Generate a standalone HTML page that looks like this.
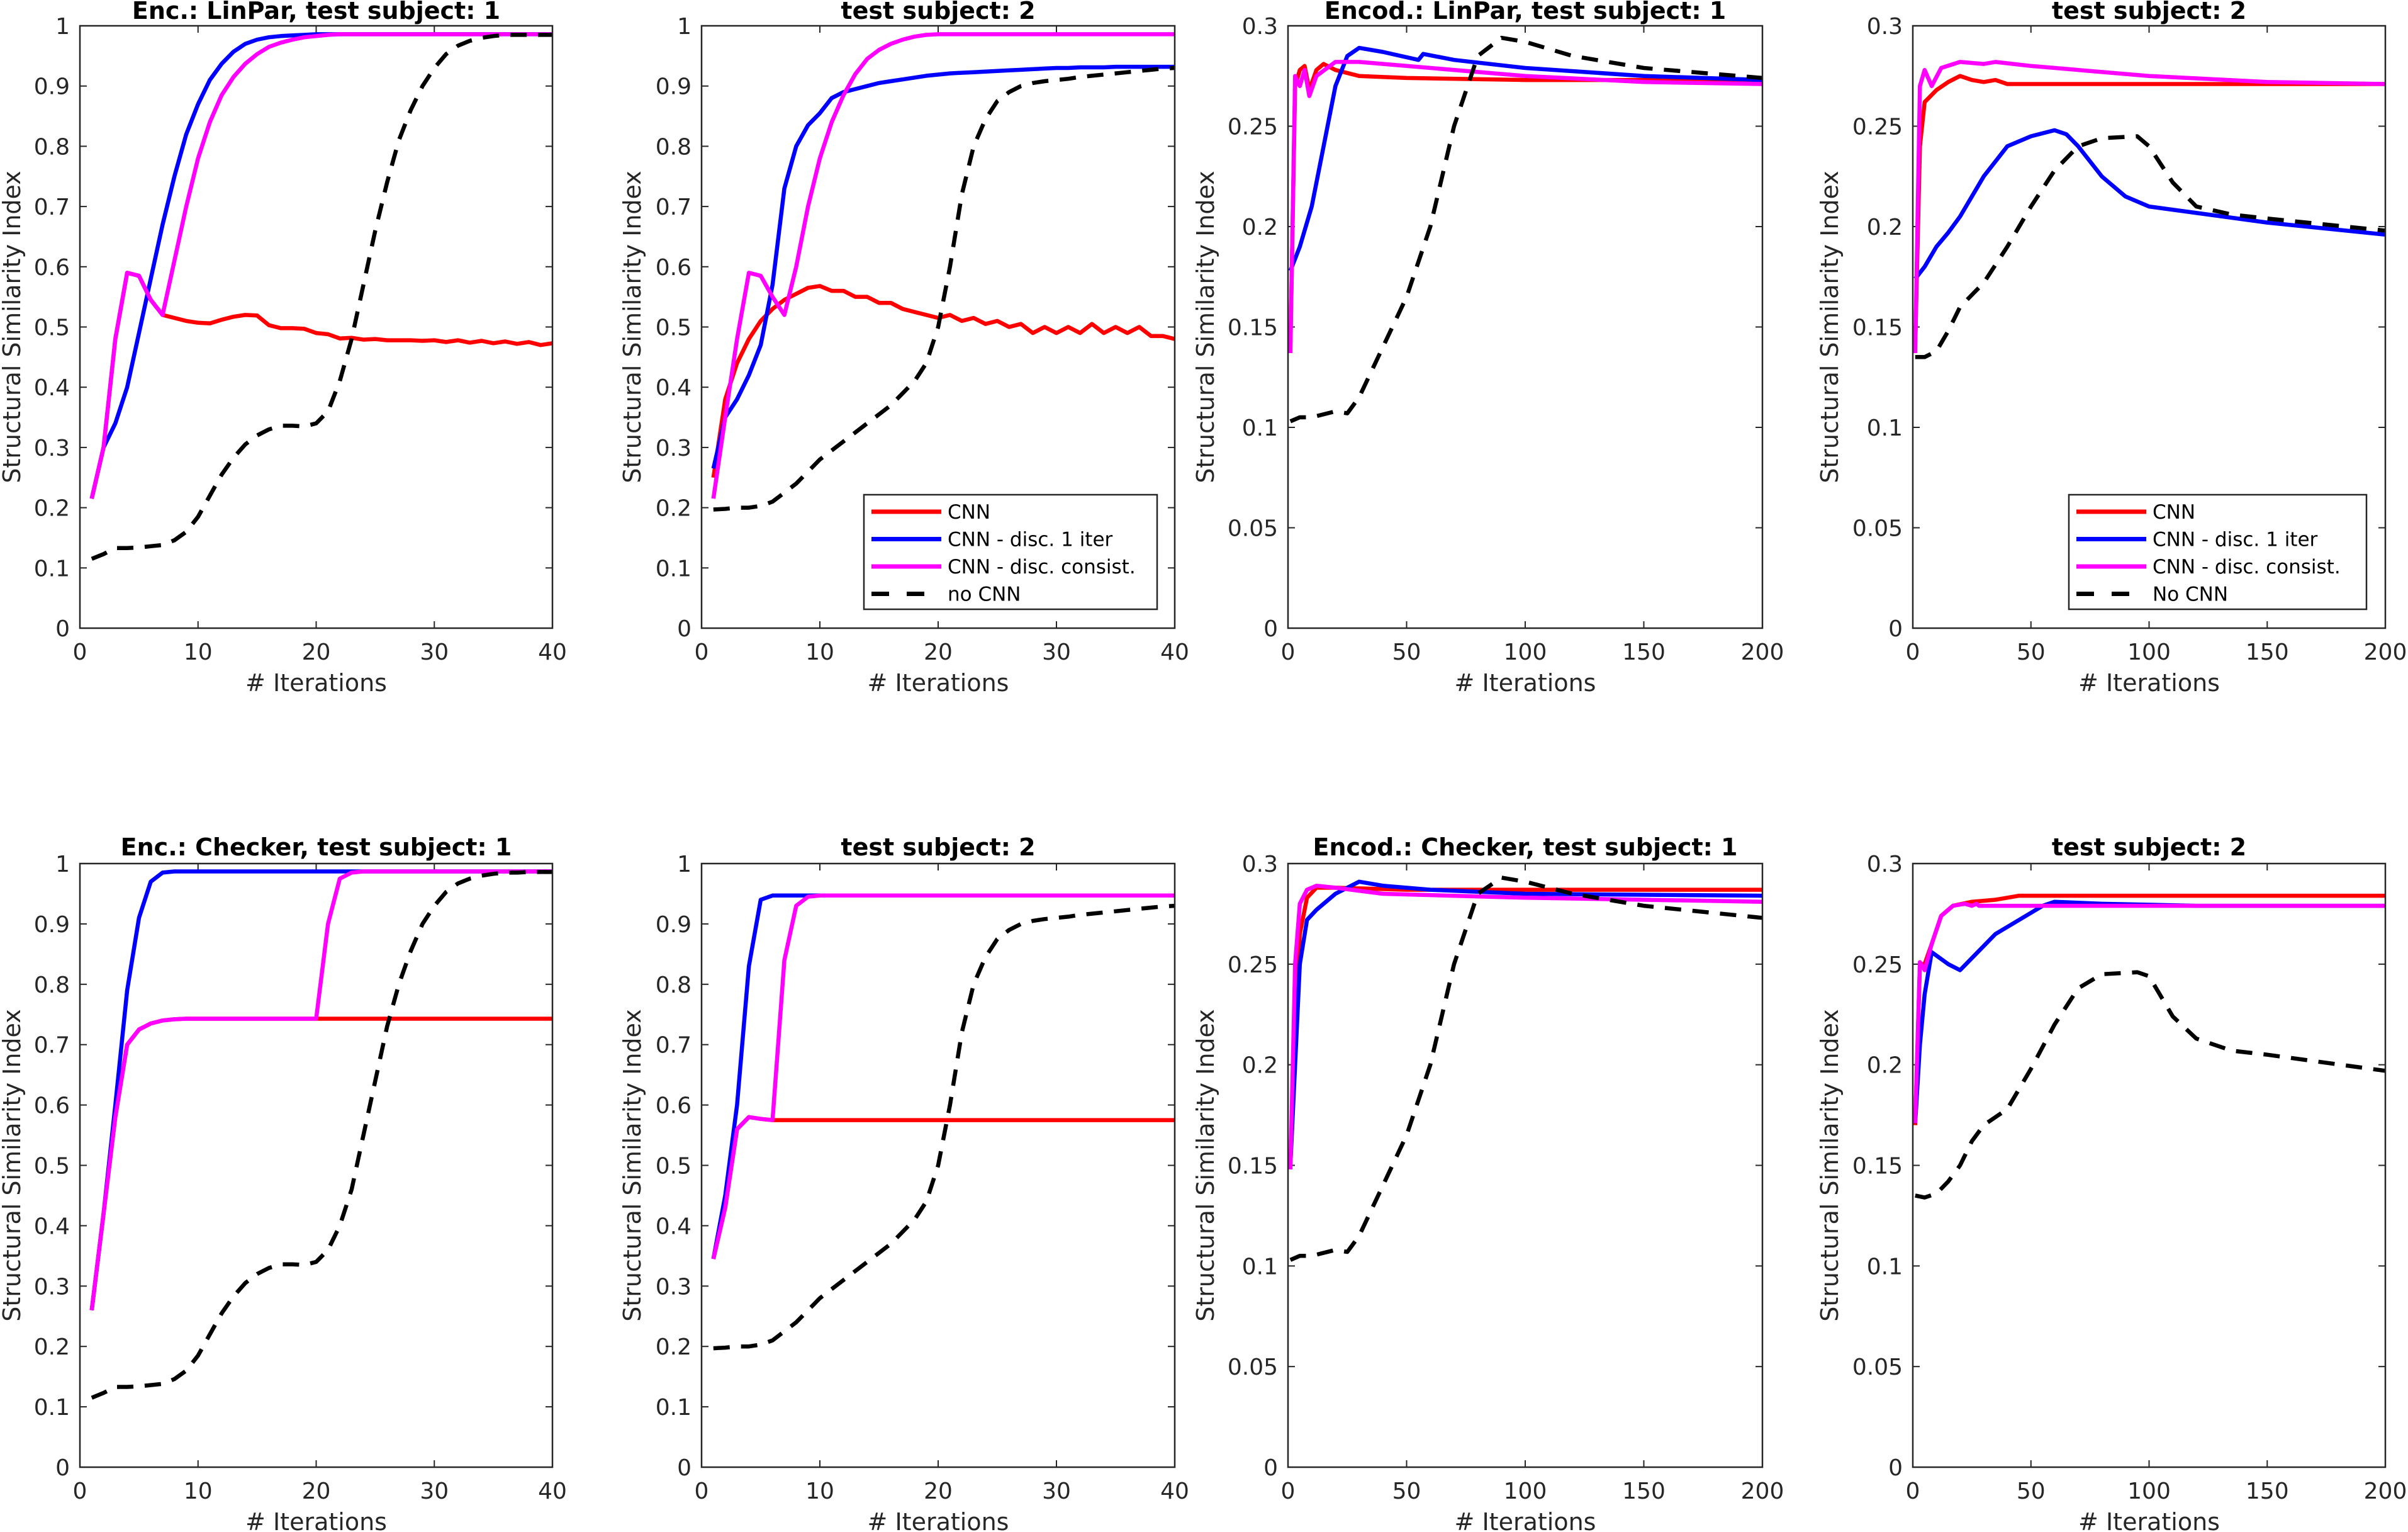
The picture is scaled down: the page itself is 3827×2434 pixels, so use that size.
<!DOCTYPE html>
<html><head><meta charset="utf-8"><style>
html,body{margin:0;padding:0;background:#fff;}
svg{display:block;font-family:"DejaVu Sans","Liberation Sans",sans-serif;}
</style></head><body>
<svg id="fig" width="3827" height="2434" viewBox="0 0 3827 2434" xmlns="http://www.w3.org/2000/svg"></svg>
<script>
// ---- data ----
const iters40 = [1,2,3,4,5,6,7,8,9,10,11,12,13,14,15,16,17,18,19,20,21,22,23,24,25,26,27,28,29,30,31,32,33,34,35,36,37,38,39,40];
// Panel 1: LinPar subject 1
const p1Red = [0.215,0.30,0.48,0.59,0.585,0.545,0.52,0.515,0.51,0.507,0.506,0.512,0.517,0.52,0.519,0.503,0.498,0.498,0.497,0.49,0.488,0.481,0.482,0.479,0.48,0.478,0.478,0.478,0.477,0.478,0.475,0.478,0.474,0.477,0.473,0.476,0.472,0.475,0.47,0.473];
const p1Blue = [0.215,0.30,0.34,0.40,0.49,0.58,0.67,0.75,0.82,0.87,0.91,0.937,0.957,0.97,0.977,0.981,0.983,0.984,0.985,0.986,0.986,0.986,0.986,0.986,0.986,0.986,0.986,0.986,0.986,0.986,0.986,0.986,0.986,0.986,0.986,0.986,0.986,0.986,0.986,0.986];
const p1Mag = [0.215,0.30,0.48,0.59,0.585,0.545,0.52,0.61,0.70,0.78,0.84,0.885,0.915,0.937,0.953,0.965,0.972,0.977,0.981,0.983,0.985,0.986,0.986,0.986,0.986,0.986,0.986,0.986,0.986,0.986,0.986,0.986,0.986,0.986,0.986,0.986,0.986,0.986,0.986,0.986];
const p1Black = [0.115,0.123,0.133,0.133,0.134,0.136,0.138,0.146,0.16,0.185,0.22,0.255,0.283,0.305,0.32,0.33,0.336,0.336,0.335,0.34,0.36,0.41,0.48,0.57,0.66,0.74,0.81,0.86,0.90,0.93,0.953,0.967,0.975,0.98,0.983,0.985,0.985,0.985,0.985,0.985];
// Panel 2: LinPar subject 2
const p2Red = [0.25,0.38,0.44,0.48,0.51,0.53,0.545,0.555,0.565,0.568,0.56,0.56,0.55,0.55,0.54,0.54,0.53,0.525,0.52,0.515,0.52,0.51,0.515,0.505,0.51,0.50,0.505,0.49,0.50,0.49,0.50,0.49,0.505,0.49,0.50,0.49,0.50,0.485,0.485,0.48];
const p2Blue = [0.265,0.35,0.38,0.42,0.47,0.57,0.73,0.80,0.835,0.855,0.88,0.89,0.895,0.90,0.905,0.908,0.911,0.914,0.917,0.919,0.921,0.922,0.923,0.924,0.925,0.926,0.927,0.928,0.929,0.93,0.93,0.931,0.931,0.931,0.932,0.932,0.932,0.932,0.932,0.932];
const p2Mag = [0.215,0.35,0.48,0.59,0.585,0.55,0.52,0.60,0.70,0.78,0.84,0.885,0.92,0.945,0.96,0.97,0.977,0.982,0.985,0.986,0.986,0.986,0.986,0.986,0.986,0.986,0.986,0.986,0.986,0.986,0.986,0.986,0.986,0.986,0.986,0.986,0.986,0.986,0.986,0.986];
const p2Black = [0.197,0.198,0.20,0.20,0.203,0.21,0.225,0.24,0.26,0.28,0.295,0.31,0.325,0.34,0.355,0.37,0.39,0.41,0.44,0.50,0.60,0.72,0.80,0.845,0.875,0.89,0.90,0.905,0.908,0.91,0.912,0.915,0.917,0.919,0.921,0.923,0.925,0.927,0.929,0.93];
// Panel 3: Encod LinPar subject 1
const p3RedX = [1,3,5,7,9,12,15,20,30,50,100,150,200];
const p3Red = [0.14,0.27,0.278,0.28,0.268,0.278,0.281,0.278,0.275,0.274,0.273,0.273,0.272];
const p3MagX = [1,3,5,7,9,12,20,30,50,100,150,200];
const p3Mag = [0.137,0.275,0.27,0.278,0.265,0.275,0.282,0.282,0.28,0.275,0.272,0.271];
const p3BlueX = [1,5,10,15,20,25,30,40,55,57,70,100,150,200];
const p3Blue = [0.178,0.19,0.21,0.24,0.27,0.285,0.289,0.287,0.283,0.286,0.283,0.279,0.275,0.273];
const p3BlackX = [1,5,10,20,25,30,40,50,60,70,80,90,100,120,150,200];
const p3Black = [0.103,0.105,0.105,0.108,0.107,0.115,0.14,0.165,0.20,0.25,0.285,0.294,0.292,0.285,0.279,0.274];
// Panel 4: Encod LinPar subject 2
const p4RedX = [1,3,5,10,15,20,25,30,35,40,200];
const p4Red = [0.14,0.24,0.262,0.268,0.272,0.275,0.273,0.272,0.273,0.271,0.271];
const p4MagX = [1,3,5,8,12,20,30,35,50,100,150,200];
const p4Mag = [0.137,0.27,0.278,0.27,0.279,0.282,0.281,0.282,0.28,0.275,0.272,0.271];
const p4BlueX = [1,5,10,15,20,30,40,50,60,65,70,80,90,100,150,200];
const p4Blue = [0.174,0.18,0.19,0.197,0.205,0.225,0.24,0.245,0.248,0.246,0.24,0.225,0.215,0.21,0.202,0.196];
const p4BlackX = [1,5,10,15,20,30,40,50,60,70,80,95,100,110,120,135,150,200];
const p4Black = [0.135,0.135,0.138,0.148,0.16,0.172,0.19,0.21,0.228,0.24,0.244,0.245,0.24,0.222,0.21,0.206,0.204,0.198];
// Panel 5: Checker subject 1
const p5Red = [0.26,0.42,0.58,0.70,0.725,0.735,0.74,0.742,0.743,0.743,0.743,0.743,0.743,0.743,0.743,0.743,0.743,0.743,0.743,0.743,0.743,0.743,0.743,0.743,0.743,0.743,0.743,0.743,0.743,0.743,0.743,0.743,0.743,0.743,0.743,0.743,0.743,0.743,0.743,0.743];
const p5Blue = [0.26,0.42,0.60,0.79,0.91,0.97,0.985,0.987,0.987,0.987,0.987,0.987,0.987,0.987,0.987,0.987,0.987,0.987,0.987,0.987,0.987,0.987,0.987,0.987,0.987,0.987,0.987,0.987,0.987,0.987,0.987,0.987,0.987,0.987,0.987,0.987,0.987,0.987,0.987,0.987];
const p5Mag = [0.26,0.42,0.58,0.70,0.725,0.735,0.74,0.742,0.743,0.743,0.743,0.743,0.743,0.743,0.743,0.743,0.743,0.743,0.743,0.743,0.90,0.975,0.985,0.987,0.987,0.987,0.987,0.987,0.987,0.987,0.987,0.987,0.987,0.987,0.987,0.987,0.987,0.987,0.987,0.987];
const p5Black = [0.115,0.123,0.133,0.133,0.134,0.136,0.138,0.146,0.16,0.185,0.22,0.255,0.283,0.305,0.32,0.33,0.336,0.336,0.335,0.34,0.36,0.40,0.46,0.55,0.64,0.73,0.80,0.855,0.90,0.93,0.953,0.967,0.975,0.98,0.983,0.985,0.985,0.986,0.986,0.986];
// Panel 6: Checker subject 2
const p6Red = [0.345,0.43,0.56,0.58,0.577,0.575,0.575,0.575,0.575,0.575,0.575,0.575,0.575,0.575,0.575,0.575,0.575,0.575,0.575,0.575,0.575,0.575,0.575,0.575,0.575,0.575,0.575,0.575,0.575,0.575,0.575,0.575,0.575,0.575,0.575,0.575,0.575,0.575,0.575,0.575];
const p6Blue = [0.345,0.45,0.60,0.83,0.94,0.947,0.947,0.947,0.947,0.947,0.947,0.947,0.947,0.947,0.947,0.947,0.947,0.947,0.947,0.947,0.947,0.947,0.947,0.947,0.947,0.947,0.947,0.947,0.947,0.947,0.947,0.947,0.947,0.947,0.947,0.947,0.947,0.947,0.947,0.947];
const p6Mag = [0.345,0.43,0.56,0.58,0.577,0.575,0.84,0.93,0.945,0.947,0.947,0.947,0.947,0.947,0.947,0.947,0.947,0.947,0.947,0.947,0.947,0.947,0.947,0.947,0.947,0.947,0.947,0.947,0.947,0.947,0.947,0.947,0.947,0.947,0.947,0.947,0.947,0.947,0.947,0.947];
const p6Black = [0.197,0.198,0.20,0.20,0.203,0.21,0.225,0.24,0.26,0.28,0.295,0.31,0.325,0.34,0.355,0.37,0.39,0.41,0.44,0.50,0.60,0.72,0.80,0.845,0.875,0.89,0.90,0.905,0.908,0.91,0.912,0.915,0.917,0.919,0.921,0.923,0.925,0.927,0.929,0.93];
// Panel 7: Encod Checker subject 1
const p7RedX = [1,3,5,8,12,20,50,200];
const p7Red = [0.15,0.22,0.265,0.283,0.288,0.288,0.287,0.287];
const p7MagX = [1,3,5,8,12,20,40,100,200];
const p7Mag = [0.148,0.25,0.28,0.287,0.289,0.288,0.285,0.283,0.281];
const p7BlueX = [1,3,5,8,12,20,30,40,60,100,200];
const p7Blue = [0.15,0.20,0.25,0.272,0.277,0.285,0.291,0.289,0.287,0.285,0.284];
const p7BlackX = [1,5,10,20,25,30,40,50,60,70,80,90,100,120,150,200];
const p7Black = [0.103,0.105,0.105,0.108,0.107,0.115,0.14,0.165,0.20,0.25,0.285,0.293,0.291,0.285,0.279,0.273];
// Panel 8: Encod Checker subject 2
const p8RedX = [1,3,5,8,12,17,25,35,45,200];
const p8Red = [0.17,0.25,0.25,0.26,0.274,0.279,0.281,0.282,0.284,0.284];
const p8MagX = [1,3,5,8,12,17,22,25,27,28,200];
const p8Mag = [0.171,0.251,0.247,0.26,0.274,0.279,0.28,0.279,0.28,0.279,0.279];
const p8BlueX = [1,3,5,8,15,20,25,35,45,55,60,80,120,200];
const p8Blue = [0.171,0.21,0.235,0.256,0.25,0.247,0.253,0.265,0.272,0.279,0.281,0.28,0.279,0.279];
const p8BlackX = [1,5,10,15,20,25,30,40,50,60,70,80,95,100,110,120,135,150,200];
const p8Black = [0.135,0.134,0.136,0.142,0.15,0.162,0.17,0.178,0.198,0.22,0.238,0.245,0.246,0.244,0.224,0.213,0.207,0.205,0.197];

const yTicksA = [0,0.1,0.2,0.3,0.4,0.5,0.6,0.7,0.8,0.9,1];
const yTickLabelsA = ["0","0.1","0.2","0.3","0.4","0.5","0.6","0.7","0.8","0.9","1"];
const yTicksB = [0,0.05,0.1,0.15,0.2,0.25,0.3];
const yTickLabelsB = ["0","0.05","0.1","0.15","0.2","0.25","0.3"];
const xTicksA = [0,10,20,30,40];
const xTicksB = [0,50,100,150,200];
const legendLabelsA = ["CNN","CNN - disc. 1 iter","CNN - disc. consist.","no CNN"];
const legendLabelsB = ["CNN","CNN - disc. 1 iter","CNN - disc. consist.","No CNN"];

// ---- drawing ----
const NS = "http://www.w3.org/2000/svg";
const svg = document.getElementById('fig');
function mk(tag, parent, attrs) {
  const e = document.createElementNS(NS, tag);
  for (const k in attrs) e.setAttribute(k, attrs[k]);
  parent.appendChild(e);
  return e;
}
const colL = [127,1115,2047,3040], colR = [878,1867,2801,3791];
const rowT = [41,1372], rowB = [998,2331];
const ylabOff = [108,110,131,132];
const COLORS = {red:"#ff0000", blue:"#0000ff", mag:"#ff00ff", black:"#000000"};

const panels = [
  {r:0,c:0,title:"Enc.: LinPar, test subject: 1",xmax:40,ymax:1,series:[[iters40,p1Red,"red"],[iters40,p1Blue,"blue"],[iters40,p1Mag,"mag"],[iters40,p1Black,"black"]]},
  {r:0,c:1,title:"test subject: 2",xmax:40,ymax:1,legend:legendLabelsA,series:[[iters40,p2Red,"red"],[iters40,p2Blue,"blue"],[iters40,p2Mag,"mag"],[iters40,p2Black,"black"]]},
  {r:0,c:2,title:"Encod.: LinPar, test subject: 1",xmax:200,ymax:0.3,series:[[p3RedX,p3Red,"red"],[p3BlueX,p3Blue,"blue"],[p3MagX,p3Mag,"mag"],[p3BlackX,p3Black,"black"]]},
  {r:0,c:3,title:"test subject: 2",xmax:200,ymax:0.3,legend:legendLabelsB,series:[[p4RedX,p4Red,"red"],[p4BlueX,p4Blue,"blue"],[p4MagX,p4Mag,"mag"],[p4BlackX,p4Black,"black"]]},
  {r:1,c:0,title:"Enc.: Checker, test subject: 1",xmax:40,ymax:1,series:[[iters40,p5Red,"red"],[iters40,p5Blue,"blue"],[iters40,p5Mag,"mag"],[iters40,p5Black,"black"]]},
  {r:1,c:1,title:"test subject: 2",xmax:40,ymax:1,series:[[iters40,p6Red,"red"],[iters40,p6Blue,"blue"],[iters40,p6Mag,"mag"],[iters40,p6Black,"black"]]},
  {r:1,c:2,title:"Encod.: Checker, test subject: 1",xmax:200,ymax:0.3,series:[[p7RedX,p7Red,"red"],[p7BlueX,p7Blue,"blue"],[p7MagX,p7Mag,"mag"],[p7BlackX,p7Black,"black"]]},
  {r:1,c:3,title:"test subject: 2",xmax:200,ymax:0.3,series:[[p8RedX,p8Red,"red"],[p8BlueX,p8Blue,"blue"],[p8MagX,p8Mag,"mag"],[p8BlackX,p8Black,"black"]]}
];
const seriesNames = {red:"cnn-line",blue:"cnn-disc-1-iter-line",mag:"cnn-disc-consist-line",black:"no-cnn-line"};

panels.forEach((p, i) => {
  const L = colL[p.c], R = colR[p.c], T = rowT[p.r], B = rowB[p.r];
  const xS = v => L + (v / p.xmax) * (R - L);
  const yS = v => B - (v / p.ymax) * (B - T);
  const g = mk('g', svg, {});
  
  
  const bg = mk('rect', g, {x:L, y:T, width:R-L, height:B-T, fill:'#fff'});
  
  

  const yt = p.ymax === 1 ? yTicksA : yTicksB;
  const ytl = p.ymax === 1 ? yTickLabelsA : yTickLabelsB;
  const xt = p.xmax === 40 ? xTicksA : xTicksB;
  const tg = mk('g', g, {});
  
  
  yt.forEach((v, k) => {
    const y = yS(v);
    mk('line', tg, {x1:L, x2:L+11, y1:y, y2:y, stroke:'#262626', 'stroke-width':2});
    mk('line', tg, {x1:R, x2:R-11, y1:y, y2:y, stroke:'#262626', 'stroke-width':2});
    const t = mk('text', tg, {x:L-16, y:y+13, 'text-anchor':'end', 'font-size':36, fill:'#262626'});
    t.textContent = ytl[k];
    
    
  });
  const xg = mk('g', g, {});
  
  
  xt.forEach(v => {
    const x = xS(v);
    mk('line', xg, {x1:x, x2:x, y1:B, y2:B-11, stroke:'#262626', 'stroke-width':2});
    mk('line', xg, {x1:x, x2:x, y1:T, y2:T+11, stroke:'#262626', 'stroke-width':2});
    const t = mk('text', xg, {x:x, y:B+50, 'text-anchor':'middle', 'font-size':36, fill:'#262626'});
    t.textContent = String(v);
    
    
  });

  const cid = 'clip' + i;
  const cp = mk('clipPath', g, {id:cid});
  mk('rect', cp, {x:L, y:T-4, width:R-L, height:B-T+8});
  const lg = mk('g', g, {'clip-path':'url(#' + cid + ')'});
  p.series.forEach(s => {
    const xs = s[0], ys = s[1];
    const d = ys.map((v, k) => (k ? 'L' : 'M') + xS(xs[k]).toFixed(1) + ',' + yS(v).toFixed(1)).join(' ');
    const path = mk('path', lg, {d:d, fill:'none', stroke:COLORS[s[2]], 'stroke-width':6.5, 'stroke-linejoin':'round'});
    if (s[2] === 'black') path.setAttribute('stroke-dasharray', '26 18');
    
    
  });

  const frame = mk('rect', g, {x:L, y:T, width:R-L, height:B-T, fill:'none', stroke:'#262626', 'stroke-width':2.5});
  
  

  const title = mk('text', g, {x:(L+R)/2, y:p.r === 0 ? 30 : 1359, 'text-anchor':'middle', 'font-size':38, 'font-weight':'bold', fill:'#000'});
  title.textContent = p.title;
  
  
  const xl = mk('text', g, {x:(L+R)/2, y:B+100, 'text-anchor':'middle', 'font-size':38, fill:'#262626'});
  xl.textContent = '# Iterations';
  
  
  const yx = L - ylabOff[p.c], yy = (T + B) / 2;
  const yl = mk('text', g, {x:yx, y:yy, 'text-anchor':'middle', 'dominant-baseline':'central', 'font-size':38, fill:'#262626', transform:'rotate(-90 ' + yx + ' ' + yy + ')'});
  yl.textContent = 'Structural Similarity Index';
  
  

  if (p.legend) {
    const bx = p.c === 1 ? 1373 : 3288, bxr = p.c === 1 ? 1839 : 3761, by = 786, byb = 968;
    const lgd = mk('g', g, {});
    
    
    mk('rect', lgd, {x:bx, y:by, width:bxr-bx, height:byb-by, fill:'#fff', stroke:'#262626', 'stroke-width':2.5});
    const cols = ['red','blue','mag','black'];
    p.legend.forEach((lab, k) => {
      const y = 813 + k * 43.5;
      const ln = mk('line', lgd, {x1:bx+12, x2:bx+123, y1:y, y2:y, stroke:COLORS[cols[k]], 'stroke-width':7});
      if (cols[k] === 'black') ln.setAttribute('stroke-dasharray', '28 28');
      const t = mk('text', lgd, {x:bx+133, y:y+11, 'font-size':31, fill:'#000'});
      t.textContent = lab;
      
      
    });
  }
});
</script>
</body></html>
